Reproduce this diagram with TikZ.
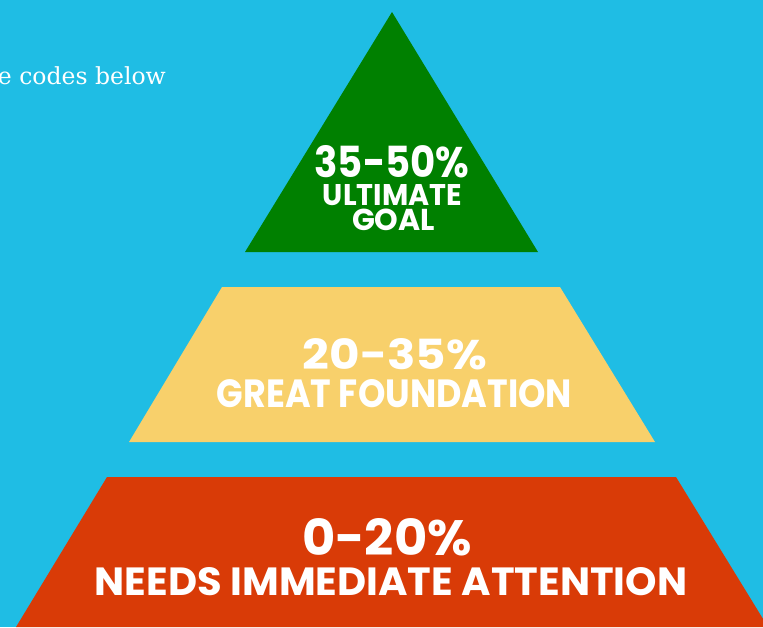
\documentclass[tikz,border=0pt]{standalone}
\usepackage{fontspec}
\usepackage{graphicx}
\usepackage{tikz}
\newfontfamily\tierfont{Poppins}
\newfontfamily\notefont{DejaVu Serif}
\definecolor{skybg}{HTML}{1FBDE4}
\definecolor{goalc}{HTML}{008000}
\definecolor{foundc}{HTML}{F8D06B}
\definecolor{attnc}{HTML}{D93B07}
\definecolor{shade}{HTML}{5A3A20}
% one line of tier text, stretched to a given width and cap height
\newcommand{\tierline}[3]{\resizebox{#1pt}{#2pt}{\tierfont\bfseries #3}}
\tikzset{
  tier/.style={draw=none},
  tiertext/.style={text=white, inner sep=0pt, anchor=base},
  notetext/.style={text=white, inner sep=0pt, anchor=base east,
                   font=\notefont\fontsize{23.5}{28}\selectfont},
}
\begin{document}
\begin{tikzpicture}[x=1pt, y=-1pt]
  \clip (0,0) rectangle (763,627);
  \fill[skybg] (0,0) rectangle (763,627);
  % pyramid tiers
  \fill[tier, goalc]  (392,12) -- (538,252) -- (245,252) -- cycle;
  \fill[tier, foundc] (222,287) -- (560,287) -- (655,442) -- (129,442) -- cycle;
  \fill[tier, attnc]  (107,477) -- (676,477) -- (768,627) -- (16,627) -- cycle;
  % texts
  \node[notetext] (note) at (166,84) {e codes below};
  \node[tiertext] (goalpct)  at (392,177)   {\tierline{155}{32}{35-50\%}};
  \node[tiertext] (goallbl)  at (392.5,205.5) {\tierline{139}{21}{ULTIMATE}};
  \node[tiertext] (goallbl2) at (393.5,230) {\tierline{83}{21.5}{GOAL}};
  \node[tiertext] (foundpct) at (395,369)   {\tierline{184}{31}{20-35\%}};
  \node[tiertext] (foundlbl) at (394.5,407) {\tierline{355}{28}{GREAT FOUNDATION}};
  \node[tiertext] (attnpct)  at (387,555)   {\tierline{170}{37}{0-20\%}};
  \node[tiertext] (attnlbl)  at (391,595)   {\tierline{592}{28}{NEEDS IMMEDIATE ATTENTION}};
\end{tikzpicture}
\end{document}
